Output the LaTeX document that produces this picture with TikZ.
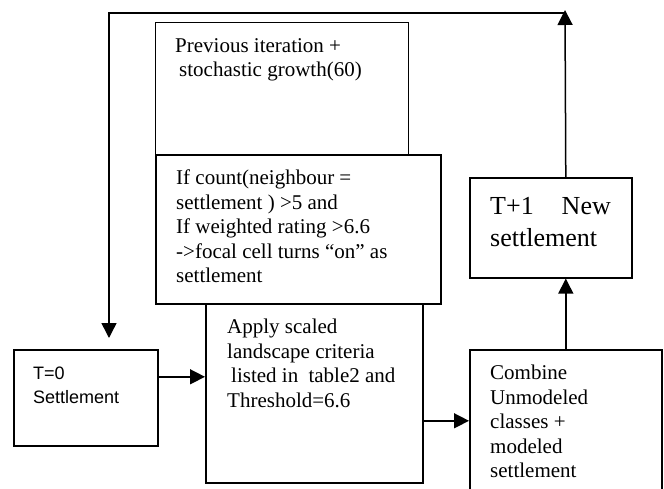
\documentclass[tikz,border=0pt]{standalone}
\usepackage{fontspec}
\setmainfont{Liberation Serif}
\newfontfamily\arialfont{Liberation Sans}
\usetikzlibrary{arrows.meta}

\begin{document}
\begin{tikzpicture}[x=1pt, y=-1pt,
    box/.style={draw, line width=1.6pt, inner sep=0pt, anchor=north west},
    txt/.style={inner sep=0pt, anchor=north west, align=left, font=\fontsize{21}{24.5}\selectfont},
    arr/.style={line width=1.5pt, -{Triangle[width=15pt,length=15pt]}}]
    \useasboundingbox (0,0) rectangle (664,489);
    % boxes
    \node[box, line width=1.1pt, minimum width=253pt, minimum height=132pt] (prev) at (155,22) {};
    \node[box, line width=2pt, minimum width=285pt, minimum height=149pt] (rule) at (155,154) {};
    \node[box, minimum width=217pt, minimum height=179pt] (apply) at (205,303) {};
    \node[box, minimum width=144pt, minimum height=96pt] (zero) at (13,349) {};
    \node[box, minimum width=192pt, minimum height=142pt] (combine) at (469,349) {};
    \node[box, minimum width=162pt, minimum height=100pt] (newset) at (469,177) {};
    % texts
    \node[txt] (prevtxt) at (175,38) {Previous iteration +\\\hspace*{4pt}stochastic growth(60)};
    \node[txt] (ruletxt) at (176,170) {If count(neighbour =\\settlement ) >5 and\\If weighted rating >6.6\\->focal cell turns “on” as\\settlement};
    \node[txt] (applytxt) at (227,319) {Apply scaled\\landscape criteria\\\hspace*{4pt}listed in\hspace{5pt} table2 and\\Threshold=6.6};
    \node[txt] (combinetxt) at (490,365) {Combine\\Unmodeled\\classes +\\modeled\\settlement};
    \node[txt, font=\fontsize{26}{32}\selectfont] (newsettxt) at (490,197) {T+1\hspace{28pt}New\\settlement};
    \node[txt, font=\arialfont\fontsize{18}{24}\selectfont] (zerotxt) at (33,367) {T=0\\Settlement};
    % connectors
    \coordinate (loopR) at (565,10);
    \coordinate (loopL) at (109,13);
    \draw[arr] ([yshift=21pt]zero.east) -- ([yshift=21pt]zero.east -| apply.west);
    \draw[arr] (apply.east |- combine.west) -- (combine.west);
    \draw[arr] (combine.north) -- (combine.north |- newset.south);
    \draw[arr] (combine.north |- newset.north) -- (loopR);
    \draw[arr] (loopR |- loopL) -- (loopL) -- ([yshift=11pt]loopL |- zero.north);
\end{tikzpicture}
\end{document}
